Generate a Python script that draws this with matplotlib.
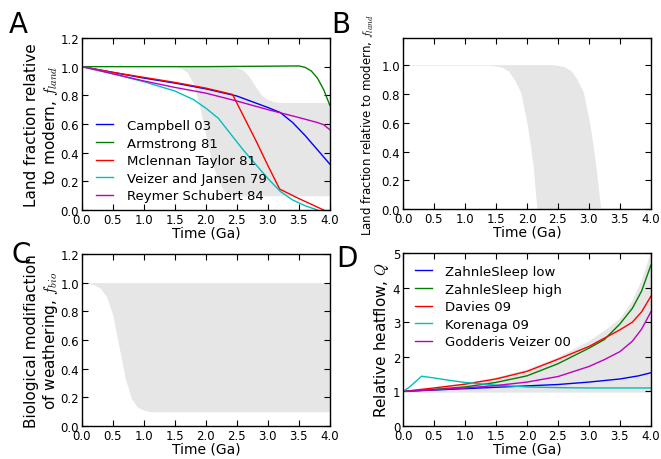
import matplotlib
matplotlib.use('Agg')
import matplotlib.pyplot as plt

plt.rcParams['font.family'] = 'DejaVu Sans'
plt.rcParams['mathtext.fontset'] = 'cm'
plt.rcParams['xtick.direction'] = 'in'
plt.rcParams['ytick.direction'] = 'in'
plt.rcParams['xtick.top'] = True
plt.rcParams['ytick.right'] = True
plt.rcParams['xtick.major.size'] = 4
plt.rcParams['ytick.major.size'] = 4
plt.rcParams['xtick.labelsize'] = 8.5
plt.rcParams['ytick.labelsize'] = 8.5
plt.rcParams['axes.linewidth'] = 1.0

# %% data, time in Ga
# Panel A: land fraction models
t_campbell = [0, 0.5, 1, 1.5, 2, 2.5, 3, 3.2, 3.4, 3.6, 3.8, 4.0]
f_campbell = [1.0, 0.96, 0.92, 0.885, 0.845, 0.795, 0.715, 0.68, 0.61, 0.52, 0.42, 0.32]
t_armstrong = [0, 1, 2, 3, 3.5, 3.6, 3.7, 3.8, 3.9, 4.0]
f_armstrong = [1.0, 1.0, 1.0, 1.003, 1.005, 0.995, 0.97, 0.92, 0.84, 0.73]
t_mclennan = [0, 0.5, 1, 1.5, 2, 2.43, 2.6, 2.8, 3.0, 3.19, 3.5, 3.9]
f_mclennan = [1.0, 0.96, 0.925, 0.89, 0.85, 0.806, 0.66, 0.49, 0.31, 0.146, 0.08, 0.0]
t_veizer = [0, 0.5, 1, 1.5, 1.8, 2.0, 2.2, 2.4, 2.6, 2.8, 3.0, 3.2, 3.4, 3.6, 3.8]
f_veizer = [1.0, 0.95, 0.895, 0.83, 0.77, 0.71, 0.64, 0.53, 0.42, 0.32, 0.22, 0.13, 0.07, 0.03, 0.0]
t_reymer = [0, 0.5, 1, 1.5, 2, 2.5, 3, 3.5, 3.8, 3.9, 4.0]
f_reymer = [1.0, 0.95, 0.90, 0.855, 0.815, 0.76, 0.70, 0.645, 0.61, 0.595, 0.56]

tA_up = [0, 2.4, 2.5, 2.6, 2.7, 2.8, 2.9, 3.0, 3.1, 3.2, 4.0]
fA_up = [1.0, 1.0, 0.995, 0.975, 0.93, 0.86, 0.80, 0.77, 0.755, 0.75, 0.75]
tA_lo = [0, 1.5, 1.6, 1.7, 1.8, 1.9, 2.0, 2.1, 2.2, 2.3, 2.4, 2.5, 4.0]
fA_lo = [1.0, 1.0, 0.99, 0.96, 0.88, 0.72, 0.52, 0.33, 0.2, 0.13, 0.11, 0.1, 0.1]

# Panel B: land fraction envelope
tB_lo = [0, 1.4, 1.5, 1.6, 1.7, 1.8, 1.9, 2.0, 2.05, 2.1, 2.16, 4.0]
fB_lo = [1, 1, 0.995, 0.985, 0.96, 0.9, 0.81, 0.6, 0.46, 0.3, 0.0, 0.0]
tB_up = [0, 2.4, 2.5, 2.6, 2.7, 2.8, 2.9, 3.0, 3.05, 3.1, 3.18, 4.0]
fB_up = [1, 1, 0.995, 0.985, 0.96, 0.9, 0.81, 0.6, 0.46, 0.3, 0.0, 0.0]

# Panel C: biological weathering envelope
tC = [0, 0.1, 0.2, 0.3, 0.4, 0.5, 0.6, 0.7, 0.8, 0.9, 1.0, 1.1, 1.2, 4.0]
fC_lo = [1.0, 0.995, 0.985, 0.96, 0.9, 0.77, 0.55, 0.33, 0.19, 0.13, 0.11, 0.1, 0.1, 0.1]
fC_up = [1.0] * len(tC)

# Panel D: relative heatflow
t_zs_low = [0, 0.5, 1, 1.5, 2, 2.5, 3, 3.5, 3.8, 4.0]
q_zs_low = [1.0, 1.04, 1.08, 1.12, 1.16, 1.2, 1.27, 1.36, 1.45, 1.54]
t_zs_high = [0, 0.5, 1, 1.5, 2, 2.5, 3, 3.25, 3.5, 3.7, 3.85, 4.0]
q_zs_high = [1.0, 1.06, 1.13, 1.26, 1.45, 1.8, 2.25, 2.5, 2.95, 3.4, 3.9, 4.65]
t_davies = [0, 0.5, 1, 1.5, 2, 2.5, 3, 3.5, 3.7, 3.85, 3.9, 4.0]
q_davies = [1.0, 1.1, 1.21, 1.36, 1.58, 1.93, 2.3, 2.78, 3.0, 3.3, 3.45, 3.75]
t_korenaga = [0, 0.1, 0.2, 0.3, 0.5, 0.75, 1.0, 1.5, 2.0, 2.5, 3, 3.5, 4.0]
q_korenaga = [1.0, 1.12, 1.28, 1.44, 1.39, 1.32, 1.26, 1.18, 1.13, 1.11, 1.1, 1.1, 1.1]
t_godderis = [0, 0.5, 1, 1.5, 2, 2.5, 3, 3.25, 3.5, 3.7, 3.85, 4.0]
q_godderis = [1.0, 1.05, 1.1, 1.17, 1.27, 1.43, 1.72, 1.92, 2.15, 2.45, 2.8, 3.3]

tD = [0, 0.5, 1, 1.5, 2, 2.5, 3, 3.25, 3.5, 3.7, 3.85, 4.0]
qD_up = [1.0, 1.1, 1.23, 1.4, 1.63, 1.98, 2.45, 2.75, 3.1, 3.6, 4.2, 5.0]
qD_lo = [1.0] * len(tD)

xticks = [0.0, 0.5, 1.0, 1.5, 2.0, 2.5, 3.0, 3.5, 4.0]
shade = '0.9'

fig = plt.figure(figsize=(6.61, 4.6), dpi=100)
axA = fig.add_axes([0.124, 0.5413, 0.375, 0.374])
axB = fig.add_axes([0.6097, 0.5435, 0.375, 0.3717])
axC = fig.add_axes([0.124, 0.0717, 0.375, 0.374])
axD = fig.add_axes([0.6097, 0.0717, 0.375, 0.376])

# %% A
axA.fill_between(tA_up, fA_up, 0, color=shade, lw=0)
axA.fill_between(tA_lo, fA_lo, 0, color='white', lw=0)
axA.plot(t_campbell, f_campbell, color='b', lw=1, label='Campbell 03')
axA.plot(t_armstrong, f_armstrong, color='g', lw=1, label='Armstrong 81')
axA.plot(t_mclennan, f_mclennan, color='r', lw=1, label='Mclennan Taylor 81')
axA.plot(t_veizer, f_veizer, color='c', lw=1, label='Veizer and Jansen 79')
axA.plot(t_reymer, f_reymer, color='m', lw=1, label='Reymer Schubert 84')
axA.set_ylim(0, 1.2)
axA.set_yticks([0.0, 0.2, 0.4, 0.6, 0.8, 1.0, 1.2])
axA.set_ylabel('Land fraction relative\nto modern, $f_{land}$', fontsize=11, labelpad=0)
axA.legend(loc='lower left', frameon=False, fontsize=9.5, handlelength=1.3,
           handletextpad=1.0, labelspacing=0.35, bbox_to_anchor=(0.01, -0.025))

# %% B
axB.fill_between(tB_up, fB_up, 0, color=shade, lw=1)
axB.fill_between(tB_lo, fB_lo, 0, color='white', lw=0)
axB.set_ylim(0, 1.19)
axB.set_yticks([0.0, 0.2, 0.4, 0.6, 0.8, 1.0])
axB.set_ylabel('Land fraction relative to modern, $f_{land}$', fontsize=8.5)

# %% C
axC.fill_between(tC, fC_lo, fC_up, color=shade, lw=0)
axC.set_ylim(0, 1.2)
axC.set_yticks([0.0, 0.2, 0.4, 0.6, 0.8, 1.0, 1.2])
axC.set_ylabel('Biological modifiaction\nof weathering, $f_{bio}$', fontsize=11, labelpad=0)

# %% D
axD.fill_between(tD, qD_lo, qD_up, color=shade, lw=1)
axD.plot(t_zs_low, q_zs_low, color='b', lw=1, label='ZahnleSleep low')
axD.plot(t_zs_high, q_zs_high, color='g', lw=1, label='ZahnleSleep high')
axD.plot(t_davies, q_davies, color='r', lw=1, label='Davies 09')
axD.plot(t_korenaga, q_korenaga, color='c', lw=1, label='Korenaga 09')
axD.plot(t_godderis, q_godderis, color='m', lw=1, label='Godderis Veizer 00')
axD.set_ylim(0, 5)
axD.set_yticks([0, 1, 2, 3, 4, 5])
axD.set_ylabel('Relative heatflow, $Q$', fontsize=11, labelpad=1)
axD.legend(loc='upper left', frameon=False, fontsize=9.5, handlelength=1.3,
           handletextpad=1.0, labelspacing=0.35)

for ax in [axA, axB, axC, axD]:
    ax.set_xlim(0, 4)
    ax.set_xticks(xticks)
    ax.set_xticklabels(['%.1f' % x for x in xticks])
    ax.set_xlabel('Time (Ga)', fontsize=10, labelpad=0)
    ax.tick_params(pad=2)

fig.text(0.014, 0.928, 'A', fontsize=20)
fig.text(0.501, 0.928, 'B', fontsize=20)
fig.text(0.017, 0.428, 'C', fontsize=20)
fig.text(0.509, 0.42, 'D', fontsize=20)

fig.savefig('out.png', dpi=100, facecolor='white')
